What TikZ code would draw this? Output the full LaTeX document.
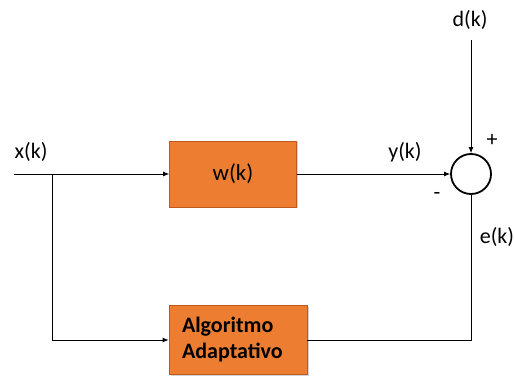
\documentclass[tikz,border=0pt]{standalone}
\usepackage{fontspec}
\setmainfont{Carlito}
\usepackage{tikz}
\usetikzlibrary{arrows.meta,positioning,calc,shadows}
\definecolor{blockorange}{RGB}{237,125,49}
\definecolor{blockedge}{RGB}{190,90,30}
\tikzset{
  block/.style={rectangle, draw=blockedge, fill=blockorange, line width=0.8pt,
    drop shadow={shadow xshift=1.5pt, shadow yshift=-1.5pt, opacity=0.35},
    font=\fontsize{23}{26}\selectfont},
  sumnode/.style={circle, draw, line width=1.8pt, minimum size=40pt, inner sep=0pt},
  signal/.style={-{Latex[length=6pt,width=5pt]}, line width=0.8pt},
  wire/.style={line width=0.8pt},
  lbl/.style={font=\fontsize{22}{26}\selectfont},
}

\begin{document}
\begin{tikzpicture}[x=1pt,y=1pt]
  \useasboundingbox (0,0) rectangle (514,378);

  % blocks
  \node[block, minimum width=127pt, minimum height=66pt] (filt) at (233,204) {w(k)};
  \node[block, minimum width=138pt, minimum height=69pt, text width=112pt, inner xsep=13pt,
        align=left, font=\fontsize{22}{26}\selectfont\bfseries] (alg) at (238,38) {Algoritmo\\Adaptativo};
  \node[sumnode] (sum) at (471,204) {};

  % end points
  \coordinate (xin) at (14,204);
  \coordinate (tap) at (52,204);
  \coordinate (tapdown) at (52,38);
  \coordinate (din) at (471,338);
  \coordinate (ecorner) at (471,38);

  % signal paths
  \draw[signal] (xin) -- (filt.west);
  \draw[wire] (tap) -- (tapdown);
  \draw[signal] (tapdown) -- (alg.west);
  \draw[signal] (filt.east) -- (sum.west);
  \draw[signal] (din) -- (sum.north);
  \draw[wire] (sum.south) -- (ecorner) -- (alg.east);

  % labels
  \node[lbl] (xlab) at (31,226) {x(k)};
  \node[lbl] (ylab) at (405,226) {y(k)};
  \node[lbl] (dlab) at (470,358) {d(k)};
  \node[lbl] (plus) at (492,238) {+};
  \node[lbl] (minus) at (437,182) {-};
  \node[lbl] (elab) at (497,141) {e(k)};
\end{tikzpicture}
\end{document}
